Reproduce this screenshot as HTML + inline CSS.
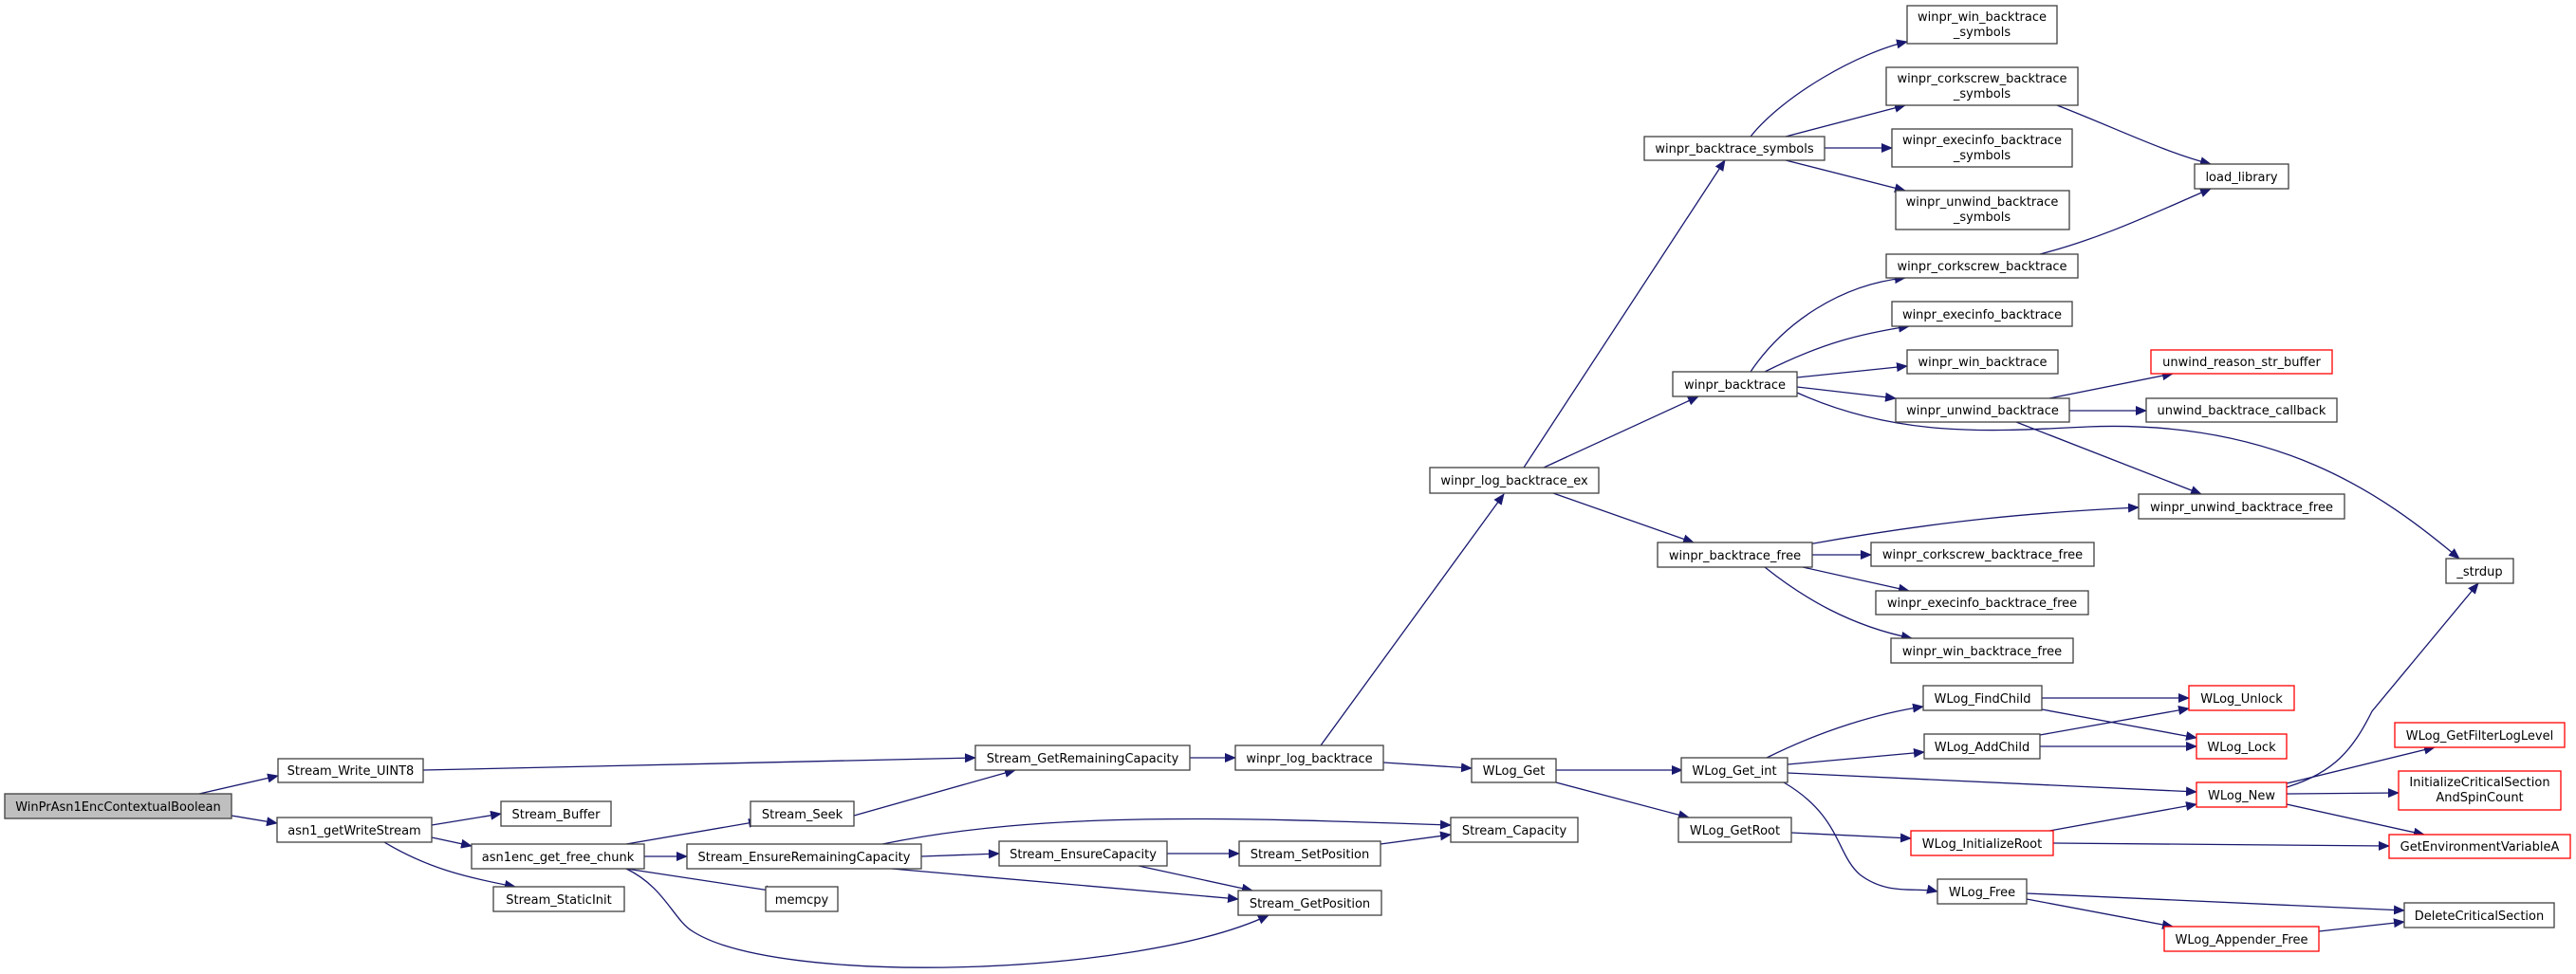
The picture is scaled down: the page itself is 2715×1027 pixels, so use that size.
<!DOCTYPE html>
<html><head><meta charset="utf-8"><style>
html,body{margin:0;padding:0;background:#fff;width:2715px;height:1027px;overflow:hidden}
svg{display:block}
text{font-family:"DejaVu Sans","Liberation Sans",sans-serif;font-size:13px;fill:#000}
.b{fill:#fff;stroke:#404040;stroke-width:1.3}
.r{fill:#fff;stroke:#ff0000;stroke-width:1.3}
.e{fill:none;stroke:#191970;stroke-width:1.3}
</style></head><body>
<svg width="2715" height="1027" viewBox="0 0 2715 1027" xmlns="http://www.w3.org/2000/svg">
<defs><marker id="a" markerWidth="12" markerHeight="10" refX="11" refY="5" orient="auto" markerUnits="userSpaceOnUse"><path d="M0,0 L12,5 L0,10 z" fill="#191970"/></marker></defs>
<g class="edges" marker-end="url(#a)">
<path class="e" d="M210,837 L293,818" marker-end="url(#a)"/>
<path class="e" d="M244,860 L292,868" marker-end="url(#a)"/>
<path class="e" d="M446,812 L1028,799" marker-end="url(#a)"/>
<path class="e" d="M455,870 L528,858" marker-end="url(#a)"/>
<path class="e" d="M455,883 L497,892" marker-end="url(#a)"/>
<path class="e" d="M405,888 C450,915 490,925 543,935" marker-end="url(#a)"/>
<path class="e" d="M660,890 L800,866" marker-end="url(#a)"/>
<path class="e" d="M679,903 L724,903" marker-end="url(#a)"/>
<path class="e" d="M660,916 L818,940" marker-end="url(#a)"/>
<path class="e" d="M660,916 C700,935 710,970 730,982 C820,1040 1200,1030 1337,965" marker-end="url(#a)"/>
<path class="e" d="M900,860 L1070,812" marker-end="url(#a)"/>
<path class="e" d="M930,890 C1100,855 1300,862 1529,870" marker-end="url(#a)"/>
<path class="e" d="M971,903 L1053,900" marker-end="url(#a)"/>
<path class="e" d="M940,916 L1305,948" marker-end="url(#a)"/>
<path class="e" d="M1254,799 L1302,799" marker-end="url(#a)"/>
<path class="e" d="M1392,786 L1585,521" marker-end="url(#a)"/>
<path class="e" d="M1458,804 L1551,810" marker-end="url(#a)"/>
<path class="e" d="M1230,900 L1306,900" marker-end="url(#a)"/>
<path class="e" d="M1200,913 L1320,939" marker-end="url(#a)"/>
<path class="e" d="M1455,890 L1529,880" marker-end="url(#a)"/>
<path class="e" d="M1640,812 L1773,812" marker-end="url(#a)"/>
<path class="e" d="M1640,825 L1780,862" marker-end="url(#a)"/>
<path class="e" d="M1606,493 L1818,169" marker-end="url(#a)"/>
<path class="e" d="M1627,493 L1790,418" marker-end="url(#a)"/>
<path class="e" d="M1637,520 L1785,572" marker-end="url(#a)"/>
<path class="e" d="M1845,144 C1880,100 1960,55 2010,44" marker-end="url(#a)"/>
<path class="e" d="M1882,144 L2008,111" marker-end="url(#a)"/>
<path class="e" d="M1923,156 L1994,156" marker-end="url(#a)"/>
<path class="e" d="M1882,169 L2008,201" marker-end="url(#a)"/>
<path class="e" d="M2168,111 C2230,135 2280,160 2330,173" marker-end="url(#a)"/>
<path class="e" d="M2150,268 C2220,250 2280,220 2330,199" marker-end="url(#a)"/>
<path class="e" d="M1845,392 C1880,340 1940,300 2008,293" marker-end="url(#a)"/>
<path class="e" d="M1860,392 C1920,362 1960,352 2012,344" marker-end="url(#a)"/>
<path class="e" d="M1894,398 L2010,386" marker-end="url(#a)"/>
<path class="e" d="M1894,408 L1998,420" marker-end="url(#a)"/>
<path class="e" d="M1894,414 C2000,462 2100,455 2200,450 C2400,442 2510,520 2592,589" marker-end="url(#a)"/>
<path class="e" d="M2160,420 L2290,394" marker-end="url(#a)"/>
<path class="e" d="M2181,433 L2262,433" marker-end="url(#a)"/>
<path class="e" d="M2125,445 L2320,521" marker-end="url(#a)"/>
<path class="e" d="M1900,575 C2050,548 2150,540 2254,535" marker-end="url(#a)"/>
<path class="e" d="M1910,585 L1972,585" marker-end="url(#a)"/>
<path class="e" d="M1900,598 L2012,623" marker-end="url(#a)"/>
<path class="e" d="M1860,598 C1900,630 1950,660 2015,673" marker-end="url(#a)"/>
<path class="e" d="M1862,799 C1920,770 1980,752 2027,745" marker-end="url(#a)"/>
<path class="e" d="M1884,806 L2028,793" marker-end="url(#a)"/>
<path class="e" d="M1884,815 L2315,835" marker-end="url(#a)"/>
<path class="e" d="M1880,825 C1940,860 1935,900 1960,922 C1990,945 2020,935 2042,940" marker-end="url(#a)"/>
<path class="e" d="M2152,736 L2307,736" marker-end="url(#a)"/>
<path class="e" d="M2152,748 L2315,778" marker-end="url(#a)"/>
<path class="e" d="M2150,775 L2307,747" marker-end="url(#a)"/>
<path class="e" d="M2150,787 L2315,787" marker-end="url(#a)"/>
<path class="e" d="M2410,830 C2460,815 2480,790 2500,750 L2612,615" marker-end="url(#a)"/>
<path class="e" d="M2410,826 L2566,788" marker-end="url(#a)"/>
<path class="e" d="M2410,837 L2528,836" marker-end="url(#a)"/>
<path class="e" d="M2410,848 L2555,880" marker-end="url(#a)"/>
<path class="e" d="M1888,878 L2014,884" marker-end="url(#a)"/>
<path class="e" d="M2160,876 L2315,848" marker-end="url(#a)"/>
<path class="e" d="M2164,889 L2518,892" marker-end="url(#a)"/>
<path class="e" d="M2136,942 L2534,960" marker-end="url(#a)"/>
<path class="e" d="M2136,948 L2290,977" marker-end="url(#a)"/>
<path class="e" d="M2444,982 L2534,972" marker-end="url(#a)"/>
</g>
<g text-anchor="middle">
<rect x="5" y="837" width="239" height="26" style="fill:#bfbfbf;stroke:#404040;stroke-width:1.3"/><text x="124.5" y="855">WinPrAsn1EncContextualBoolean</text>
<rect class="b" x="293" y="800" width="153" height="25"/><text x="369.5" y="817">Stream_Write_UINT8</text>
<rect class="b" x="292" y="862" width="163" height="26"/><text x="373.5" y="880">asn1_getWriteStream</text>
<rect class="b" x="528" y="845" width="116" height="26"/><text x="586" y="863">Stream_Buffer</text>
<rect class="b" x="497" y="890" width="182" height="26"/><text x="588" y="908">asn1enc_get_free_chunk</text>
<rect class="b" x="520" y="935" width="138" height="26"/><text x="589" y="953">Stream_StaticInit</text>
<rect class="b" x="791" y="845" width="109" height="26"/><text x="845.5" y="863">Stream_Seek</text>
<rect class="b" x="724" y="890" width="247" height="26"/><text x="847.5" y="908">Stream_EnsureRemainingCapacity</text>
<rect class="b" x="807" y="935" width="76" height="26"/><text x="845" y="953">memcpy</text>
<rect class="b" x="1028" y="786" width="226" height="26"/><text x="1141" y="804">Stream_GetRemainingCapacity</text>
<rect class="b" x="1302" y="786" width="156" height="26"/><text x="1380" y="804">winpr_log_backtrace</text>
<rect class="b" x="1551" y="800" width="89" height="25"/><text x="1595.5" y="817">WLog_Get</text>
<rect class="b" x="1529" y="862" width="134" height="26"/><text x="1596" y="880">Stream_Capacity</text>
<rect class="b" x="1053" y="887" width="177" height="26"/><text x="1141.5" y="905">Stream_EnsureCapacity</text>
<rect class="b" x="1306" y="887" width="149" height="26"/><text x="1380.5" y="905">Stream_SetPosition</text>
<rect class="b" x="1305" y="939" width="151" height="26"/><text x="1380.5" y="957">Stream_GetPosition</text>
<rect class="b" x="1507" y="493" width="178" height="27"/><text x="1596" y="511">winpr_log_backtrace_ex</text>
<rect class="b" x="1747" y="572" width="163" height="26"/><text x="1828.5" y="590">winpr_backtrace_free</text>
<rect class="b" x="1733" y="144" width="190" height="25"/><text x="1828" y="161">winpr_backtrace_symbols</text>
<rect class="b" x="1763" y="392" width="131" height="26"/><text x="1828.5" y="410">winpr_backtrace</text>
<rect class="b" x="2010" y="6" width="158" height="40"/><text x="2089" y="22">winpr_win_backtrace</text><text x="2089" y="38">_symbols</text>
<rect class="b" x="1988" y="71" width="202" height="40"/><text x="2089" y="87">winpr_corkscrew_backtrace</text><text x="2089" y="103">_symbols</text>
<rect class="b" x="1994" y="136" width="190" height="40"/><text x="2089" y="152">winpr_execinfo_backtrace</text><text x="2089" y="168">_symbols</text>
<rect class="b" x="1998" y="201" width="183" height="41"/><text x="2089" y="217">winpr_unwind_backtrace</text><text x="2089" y="233">_symbols</text>
<rect class="b" x="2313" y="173" width="99" height="26"/><text x="2362.5" y="191">load_library</text>
<rect class="b" x="1988" y="268" width="202" height="25"/><text x="2089" y="285">winpr_corkscrew_backtrace</text>
<rect class="b" x="1994" y="318" width="190" height="26"/><text x="2089" y="336">winpr_execinfo_backtrace</text>
<rect class="b" x="2010" y="369" width="159" height="25"/><text x="2089.5" y="386">winpr_win_backtrace</text>
<rect class="b" x="1998" y="420" width="183" height="25"/><text x="2089.5" y="437">winpr_unwind_backtrace</text>
<rect class="r" x="2267" y="369" width="191" height="25"/><text x="2362.5" y="386">unwind_reason_str_buffer</text>
<rect class="b" x="2262" y="420" width="201" height="25"/><text x="2362.5" y="437">unwind_backtrace_callback</text>
<rect class="b" x="2254" y="521" width="217" height="26"/><text x="2362.5" y="539">winpr_unwind_backtrace_free</text>
<rect class="b" x="2578" y="589" width="71" height="26"/><text x="2613.5" y="607">_strdup</text>
<rect class="b" x="1972" y="572" width="235" height="25"/><text x="2089.5" y="589">winpr_corkscrew_backtrace_free</text>
<rect class="b" x="1977" y="623" width="224" height="25"/><text x="2089" y="640">winpr_execinfo_backtrace_free</text>
<rect class="b" x="1993" y="673" width="192" height="26"/><text x="2089" y="691">winpr_win_backtrace_free</text>
<rect class="b" x="1772" y="799" width="112" height="26"/><text x="1828" y="817">WLog_Get_int</text>
<rect class="b" x="1769" y="862" width="119" height="26"/><text x="1828.5" y="880">WLog_GetRoot</text>
<rect class="b" x="2027" y="723" width="125" height="26"/><text x="2089.5" y="741">WLog_FindChild</text>
<rect class="b" x="2028" y="774" width="122" height="26"/><text x="2089" y="792">WLog_AddChild</text>
<rect class="r" x="2307" y="723" width="111" height="26"/><text x="2362.5" y="741">WLog_Unlock</text>
<rect class="r" x="2315" y="774" width="95" height="26"/><text x="2362.5" y="792">WLog_Lock</text>
<rect class="r" x="2315" y="825" width="95" height="26"/><text x="2362.5" y="843">WLog_New</text>
<rect class="r" x="2014" y="876" width="150" height="26"/><text x="2089" y="894">WLog_InitializeRoot</text>
<rect class="b" x="2042" y="927" width="94" height="26"/><text x="2089" y="945">WLog_Free</text>
<rect class="r" x="2281" y="977" width="163" height="26"/><text x="2362.5" y="995">WLog_Appender_Free</text>
<rect class="r" x="2524" y="762" width="179" height="26"/><text x="2613.5" y="780">WLog_GetFilterLogLevel</text>
<rect class="r" x="2528" y="813" width="171" height="41"/><text x="2613.5" y="829">InitializeCriticalSection</text><text x="2613.5" y="845">AndSpinCount</text>
<rect class="r" x="2518" y="880" width="191" height="25"/><text x="2613.5" y="897">GetEnvironmentVariableA</text>
<rect class="b" x="2534" y="952" width="158" height="26"/><text x="2613" y="970">DeleteCriticalSection</text>
</g>
</svg>
</body></html>
